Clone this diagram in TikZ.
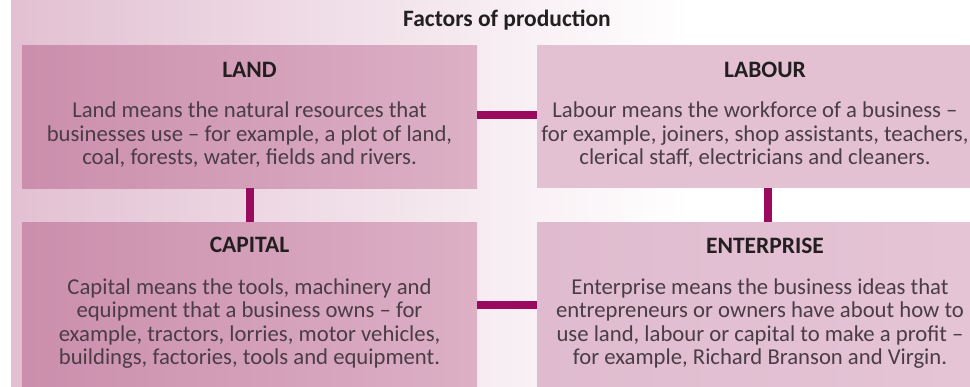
\documentclass[tikz,border=0pt]{standalone}
\usepackage{fontspec}
\setmainfont{Carlito}
\usetikzlibrary{positioning}

\definecolor{shadeL}{HTML}{E2C0D2}
\definecolor{landL}{HTML}{CB8EAC}
\definecolor{landR}{HTML}{DCB0C5}
\definecolor{labourC}{HTML}{E3C1D3}
\definecolor{entL}{HTML}{E0BBCF}
\definecolor{entR}{HTML}{E5C5D6}
\definecolor{linkC}{HTML}{9A0A5E}
\definecolor{bodyC}{HTML}{4A3D45}
\definecolor{headC}{HTML}{231F20}

\tikzset{
  factor/.style={shape=rectangle, anchor=north west, inner sep=0pt},
  heading/.style={anchor=base, inner sep=0pt, text=headC,
    font=\bfseries\fontsize{23.5}{24}\selectfont},
  blurb/.style={anchor=base, inner sep=0pt, text=bodyC, align=center,
    font=\fontsize{22.7}{23.5}\selectfont},
  link/.style={draw=linkC, line width=8pt},
}

\begin{document}
\begin{tikzpicture}[x=1pt, y=-1pt]
    \useasboundingbox (0,0) rectangle (970,387);
    % pale backdrop fading out to the right
    \shade[left color=shadeL, right color=white] (11,0) rectangle (690,387);

    \node at (507,27) (title) [heading] {Factors of production};

    % the four boxes
    \node at (22,45) (land) [factor, minimum width=455pt, minimum height=143pt,
      left color=landL, right color=landR] {};
    \node at (537,45) (labour) [factor, minimum width=462pt, minimum height=143pt,
      fill=labourC] {};
    \node at (22,222) (capital) [factor, minimum width=455pt, minimum height=165pt,
      left color=landL, right color=landR] {};
    \node at (537,222) (enterprise) [factor, minimum width=462pt, minimum height=165pt,
      left color=entL, right color=entR] {};

    \node at (249.5,78) (landH) [heading] {LAND};
    \node at (765,78) (labourH) [heading] {LABOUR};
    \node at (249.5,253) (capitalH) [heading] {CAPITAL};
    \node at (765,254) (enterpriseH) [heading] {ENTERPRISE};

    % blurbs sit on the baseline of their last line
    \node at (249.5,165) (landT) [blurb] {Land means the natural resources that\\
      businesses use -- for example, a plot of land,\\
      coal, forests, water, fields and rivers.};
    \node at (755,165) (labourT) [blurb] {Labour means the workforce of a business --\\
      for example, joiners, shop assistants, teachers,\\
      clerical staff, electricians and cleaners.};
    \node at (249.5,365) (capitalT) [blurb] {Capital means the tools, machinery and\\
      equipment that a business owns -- for\\
      example, tractors, lorries, motor vehicles,\\
      buildings, factories, tools and equipment.};
    \node at (760,365) (enterpriseT) [blurb] {Enterprise means the business ideas that\\
      entrepreneurs or owners have about how to\\
      use land, labour or capital to make a profit --\\
      for example, Richard Branson and Virgin.};

    % links between the boxes
    \draw[link] (land.east |- 0,115) -- (labour.west |- 0,115);
    \draw[link] (land.south) -- (capital.north);
    \draw[link] (labour.south -| 768,0) -- (enterprise.north -| 768,0);
    \draw[link] (capital.east |- 0,305) -- (enterprise.west |- 0,305);
\end{tikzpicture}
\end{document}
